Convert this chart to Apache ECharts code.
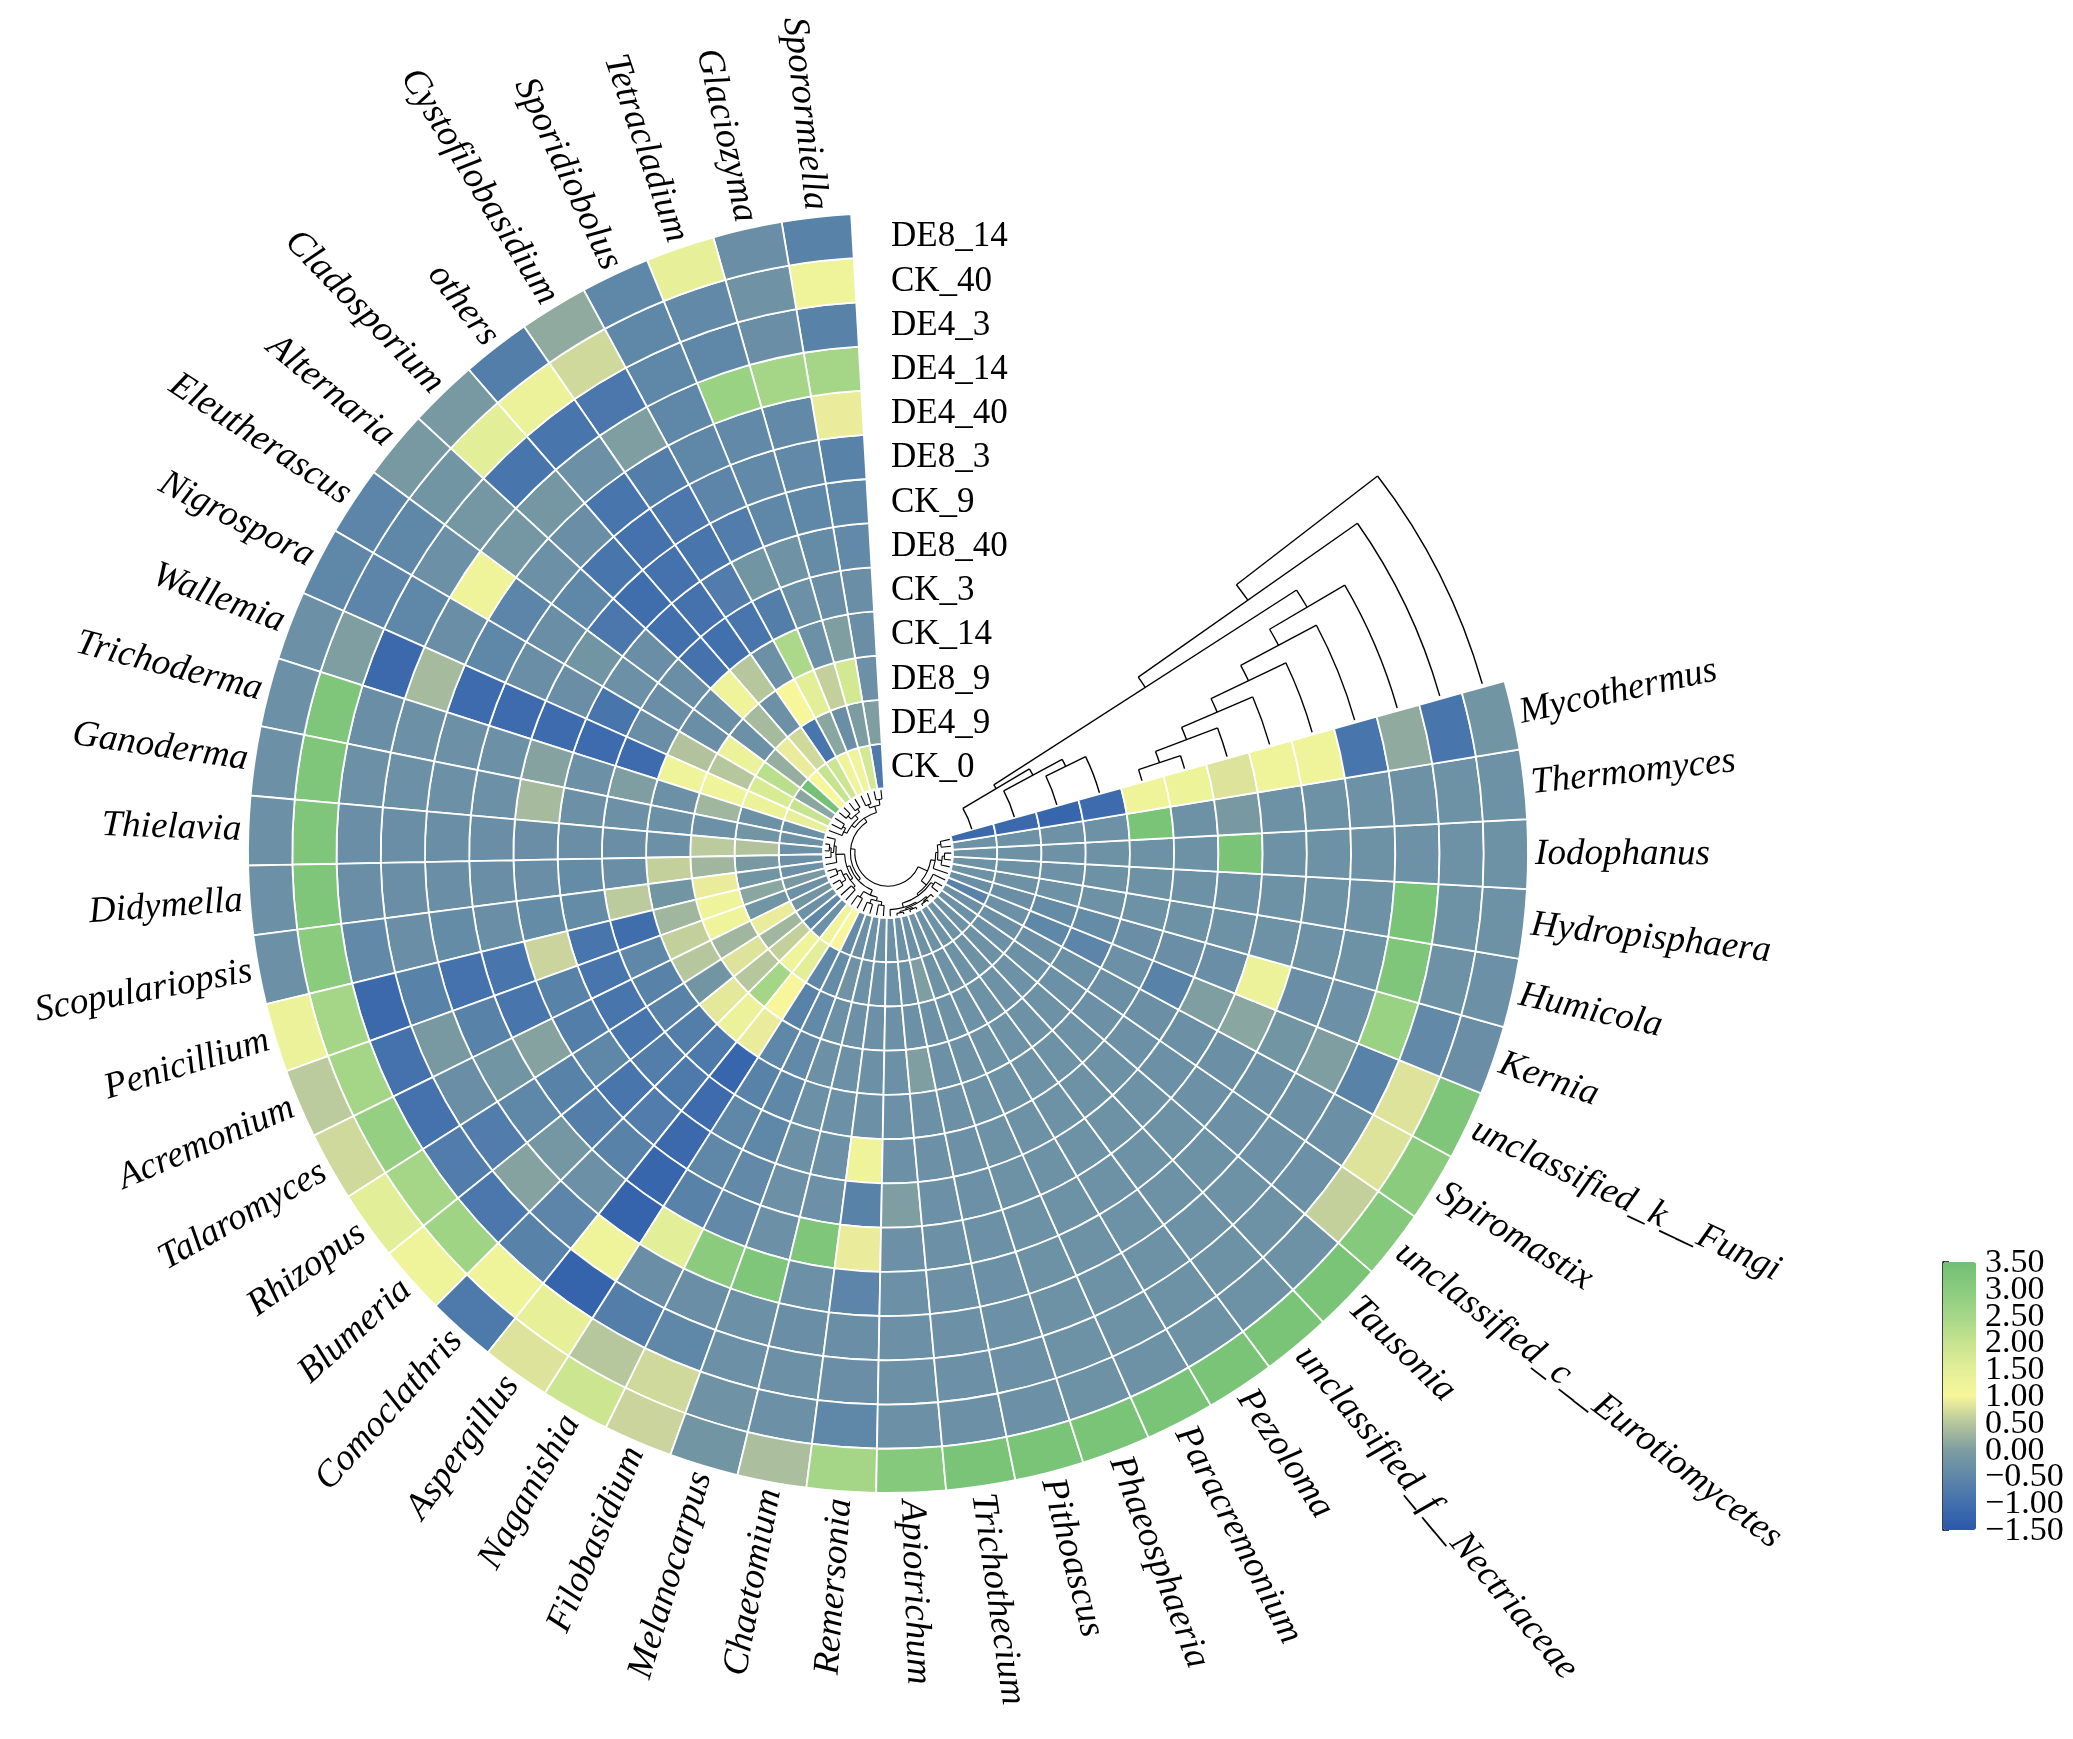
<!DOCTYPE html>
<html>
<head>
<meta charset="utf-8">
<title>Circular heatmap</title>
<script src="https://cdn.jsdelivr.net/npm/echarts@6/dist/echarts.min.js"></script>
<style>
  html, body { margin: 0; padding: 0; background: #fff; }
  #chart { width: 2073px; height: 1739px; }
</style>
</head>
<body>
<div id="chart"></div>
<script>
// ---------------------------------------------------------------- data
// genera, counter-clockwise from the top of the ring
var genera = ['Sporormiella', 'Glaciozyma', 'Tetracladium', 'Sporidiobolus', 'Cystofilobasidium',
  'others', 'Cladosporium', 'Alternaria', 'Eleutherascus', 'Nigrospora', 'Wallemia', 'Trichoderma',
  'Ganoderma', 'Thielavia', 'Didymella', 'Scopulariopsis', 'Penicillium', 'Acremonium', 'Talaromyces',
  'Rhizopus', 'Blumeria', 'Comoclathris', 'Aspergillus', 'Naganishia', 'Filobasidium', 'Melanocarpus',
  'Chaetomium', 'Remersonia', 'Apiotrichum', 'Trichothecium', 'Pithoascus', 'Phaeosphaeria',
  'Paracremonium', 'Pezoloma', 'unclassified_f__Nectriaceae', 'Tausonia', 'unclassified_c__Eurotiomycetes',
  'Spiromastix', 'unclassified_k__Fungi', 'Kernia', 'Humicola', 'Hydropisphaera', 'Iodophanus',
  'Thermomyces', 'Mycothermus'];

// samples, inner ring first
var samples = ['CK_0', 'DE4_9', 'DE8_9', 'CK_14', 'CK_3', 'DE8_40', 'CK_9', 'DE8_3', 'DE4_40',
  'DE4_14', 'DE4_3', 'CK_40', 'DE8_14'];

// z-scores per ring, one value per genus (same order as genera)
var valCK_0 = [-0.8, 1.8, 1.2, 1.2, 1.9, 2.0, 1.0, 3.4, 0.1, 2.0,
  1.4, -0.3, -0.3, -0.3, -0.3, -0.3, -0.1, -0.3, -0.2, -0.3,
  -0.5, -0.3, 1.2, 1.0, -0.4, -0.3, -0.3, -0.3, -0.3, -0.3,
  -0.3, -0.28, -0.28, -0.28, -0.28, -0.28, -0.3, -0.32, -0.6, -0.35,
  -0.28, -0.28, -0.28, -0.28, -1.15];
var valDE4_9 = [0.0, -0.05, -0.35, 0.1, -0.9, 0.7, 0.9, 0.2, 2.2, 1.7,
  1.3, -0.3, -0.2, 0.45, -0.1, -0.2, 0.1, -0.2, 0.9, 0.3,
  0.6, 1.2, 1.5, -0.5, -0.4, -0.25, -0.3, -0.3, -0.3, -0.3,
  0.0, -0.28, -0.28, -0.28, -0.28, -0.28, -0.3, -0.32, -0.3, -0.35,
  -0.28, -0.28, -0.28, -0.28, -1.15];
var valDE8_9 = [-0.3, 1.8, 0.6, 1.5, 1.0, -0.3, 0.35, -0.3, 1.3, 0.5,
  1.2, 0.3, -0.3, 0.55, 0.3, 0.9, 1.2, 1.2, 0.3, 0.8,
  0.5, 2.5, 1.0, -0.6, -0.45, -0.3, -0.3, -0.3, -0.3, -0.3,
  -0.3, -0.28, -0.28, -0.28, -0.28, -0.28, -0.3, -0.32, -0.5, -0.4,
  -0.28, -0.28, -0.28, -0.28, -1.2];
var valCK_14 = [-0.35, 0.0, -0.3, 2.4, -0.3, 0.5, 1.2, -0.35, -0.35, 0.45,
  1.2, -0.3, -0.3, -0.3, 0.6, -0.2, 0.3, 0.6, 0.5, -0.2,
  0.85, 1.3, 0.9, -0.5, -0.45, -0.3, -0.3, -0.3, -0.3, 0.0,
  -0.3, -0.28, -0.28, -0.28, -0.28, -0.28, -0.3, -0.32, -0.55, -0.4,
  -0.28, -0.28, -0.28, -0.28, -1.1];
var valCK_3 = [-0.35, -0.35, -0.3, -0.7, -0.9, -1.0, -0.95, -0.35, -0.35, -0.35,
  -1.1, 0.0, -0.3, -0.35, -0.35, 0.55, -1.05, -0.5, -0.6, -0.6,
  -0.7, -0.8, -1.2, -0.6, -0.5, -0.3, -0.3, -0.3, -0.3, -0.3,
  -0.3, -0.28, -0.28, -0.28, -0.28, -0.28, -0.3, -0.32, -0.3, -0.35,
  -0.28, -0.28, -0.28, 3.3, 1.2];
var valDE8_40 = [-0.45, -0.4, -0.25, -0.2, -0.75, -0.95, -1.0, -0.35, -0.3, -0.9,
  -1.1, -0.3, -0.3, -0.35, -0.4, -0.4, -0.9, -0.9, -0.9, -0.9,
  -0.7, -0.8, -1.1, -0.5, -0.5, -0.3, -0.3, 1.2, -0.3, -0.3,
  -0.3, -0.28, -0.28, -0.28, -0.28, -0.28, -0.3, -0.32, -0.6, -0.35,
  -0.28, -0.28, -0.28, -0.28, 1.25];
var valCK_9 = [-0.5, -0.5, -0.5, -0.75, -0.9, -0.95, -1.05, -0.85, -0.2, -0.35,
  -1.1, 0.05, 0.35, -0.35, -0.35, -0.4, 0.65, -0.6, -0.7, -0.5,
  -0.9, -0.75, -1.15, -0.5, -0.45, -0.3, -0.3, -0.6, 0.0, -0.3,
  -0.3, -0.28, -0.28, -0.28, -0.28, -0.28, -0.3, -0.32, 0.0, -0.35,
  -0.28, -0.28, 3.3, -0.1, 0.8];
var valDE8_3 = [-0.6, -0.45, -0.45, -0.55, -0.85, -0.95, -0.9, -0.5, -0.35, -0.35,
  -1.1, -0.3, -0.3, -0.35, -0.35, -0.35, -0.9, -0.9, 0.05, -0.6,
  -0.7, -0.6, -1.2, -0.6, -0.45, -0.3, 3.2, 0.9, -0.3, -0.3,
  -0.3, -0.28, -0.28, -0.28, -0.28, -0.28, -0.3, -0.32, 0.1, 1.3,
  -0.28, -0.28, -0.28, -0.28, 1.2];
var valDE4_40 = [0.9, -0.45, -0.45, -0.5, -0.7, -0.9, -0.35, -0.3, -0.55, -0.5,
  -1.1, -0.3, -0.3, -0.35, -0.35, -0.4, -0.95, -0.6, -0.2, -0.5,
  -0.15, -0.3, -1.25, 1.5, 3.0, 3.2, -0.3, -0.55, -0.3, -0.3,
  -0.3, -0.28, -0.28, -0.28, -0.28, -0.28, -0.3, -0.32, -0.2, -0.35,
  -0.28, -0.28, -0.28, -0.28, 1.2];
var valDE4_14 = [2.5, 2.5, 2.7, -0.5, 0.0, -0.3, -0.15, -0.15, 1.2, -0.35,
  0.35, -0.3, -0.3, -0.35, -0.35, -0.35, -0.6, -0.1, -0.35, -0.75,
  0.05, -0.55, 1.2, -0.35, -0.35, -0.3, -0.35, -0.35, -0.3, -0.3,
  -0.3, -0.28, -0.28, -0.28, -0.28, -0.28, -0.3, -0.32, 0.0, -0.3,
  -0.28, -0.28, -0.28, -0.28, -0.9];
var valDE4_3 = [-0.6, -0.35, -0.5, -0.5, -0.85, -0.9, -0.9, -0.15, -0.3, -0.5,
  -1.15, -0.35, -0.3, -0.35, -0.35, -0.45, -1.15, -0.95, -0.95, -0.75,
  -0.85, -0.6, -1.25, -0.7, -0.5, -0.3, -0.3, -0.35, -0.3, -0.3,
  -0.3, -0.28, -0.28, -0.28, -0.28, -0.28, -0.3, -0.32, -0.6, 2.7,
  3.2, 3.3, -0.28, -0.28, 0.15];
var valCK_40 = [1.2, -0.25, -0.45, -0.5, 0.7, 1.3, 1.5, -0.2, -0.5, -0.55,
  0.0, 3.2, 3.2, 3.2, 3.2, 3.0, 2.5, 2.5, 2.8, 2.5,
  2.6, 1.2, 1.4, 0.5, 0.7, -0.25, -0.3, -0.5, -0.3, -0.3,
  -0.3, -0.28, -0.28, -0.28, -0.28, -0.28, 0.6, 0.8, 0.8, -0.45,
  -0.28, -0.28, -0.28, -0.28, -0.9];
var valDE8_14 = [-0.6, -0.35, 1.4, -0.5, 0.15, -0.7, -0.1, -0.1, -0.55, -0.5,
  -0.3, -0.3, -0.3, -0.3, -0.3, -0.3, 1.3, 0.55, 0.7, 1.5,
  1.2, -0.8, 0.8, 1.9, 0.65, -0.2, 0.4, 2.5, 3.1, 3.3,
  3.3, 3.3, 3.3, 3.3, 3.3, 3.3, 3.1, 3.0, 3.2, -0.35,
  -0.3, -0.28, -0.28, -0.28, -0.2];

// sample clustering: [child, child, height]; leaves are ring indexes, merges numbered from 13
var sampleTree = [
  [5, 4, 0.45], [6, 13, 0.83], [7, 14, 1.21], [8, 15, 1.59], [9, 16, 1.98], [10, 17, 2.36],
  [2, 3, 1.66], [1, 19, 2.02], [0, 20, 2.42], [18, 21, 2.74], [11, 22, 3.11], [12, 23, 3.51]
];

// genus clustering: [child, child, height]; leaves are genus indexes, merges numbered from 45
var genusTree = [
  [29, 30, 0.05], [31, 32, 0.05], [45, 46, 0.08], [33, 34, 0.05], [35, 48, 0.08], [47, 49, 0.12],
  [28, 50, 0.15], [36, 37, 0.18], [51, 52, 0.25], [38, 53, 0.30], [41, 42, 0.15], [40, 55, 0.20],
  [43, 44, 0.22], [56, 57, 0.30], [39, 58, 0.35], [12, 13, 0.10], [14, 60, 0.14], [11, 61, 0.20],
  [15, 62, 0.25], [16, 17, 0.20], [18, 19, 0.18], [64, 65, 0.30], [20, 21, 0.32], [66, 67, 0.38],
  [22, 23, 0.25], [24, 25, 0.22], [26, 27, 0.24], [70, 71, 0.32], [69, 72, 0.40], [0, 1, 0.20],
  [2, 3, 0.25], [74, 75, 0.33], [4, 5, 0.22], [6, 7, 0.20], [77, 78, 0.30], [8, 9, 0.25],
  [10, 80, 0.32], [79, 81, 0.40], [76, 82, 0.48], [63, 68, 0.45], [84, 73, 0.52], [54, 59, 0.45],
  [83, 85, 0.58], [87, 86, 0.68]
];

// colour bar range and its tick labels
var scaleMin = -1.5;
var scaleMax = 3.5;
var scaleStep = 0.5;
var colorTicks = [-1.5, -1.0, -0.5, 0.0, 0.5, 1.0, 1.5, 2.0, 2.5, 3.0, 3.5];

// ---------------------------------------------------------------- layout
var TURN = 57.39;     // angle-axis units in a full turn, one unit per genus
var HOLE = 1.47;      // empty centre, in ring widths
var LEAF_R = -0.04;   // where the genus tree leaves start
var EDGE = genera.length;
var LEAF_GAP = 0.05;

var rings = [valCK_0, valDE4_9, valDE8_9, valCK_14, valCK_3, valDE8_40, valCK_9, valDE8_3,
  valDE4_40, valDE4_14, valDE4_3, valCK_40, valDE8_14];

var cells = [];
rings.forEach(function (row, j) {
  row.forEach(function (v, i) { cells.push([j, i, v]); });
});

function buildTree(linkage, nLeaves) {
  var nodes = [];
  for (var i = 0; i < nLeaves; i++) nodes.push({ pos: i + 0.5, h: 0 });
  linkage.forEach(function (m) {
    nodes.push({ pos: (nodes[m[0]].pos + nodes[m[1]].pos) / 2, h: m[2], kids: [m[0], m[1]] });
  });
  return nodes;
}
var sNodes = buildTree(sampleTree, samples.length);
var gNodes = buildTree(genusTree, genera.length);

// pixel point -> [radius, math angle]
function polarOf(params, p) {
  var cs = params.coordSys;
  return [Math.hypot(p[0] - cs.cx, p[1] - cs.cy), Math.atan2(cs.cy - p[1], p[0] - cs.cx)];
}
function unwrap(a0, a1) {
  while (a1 <= a0) a1 += Math.PI * 2;
  return a1;
}

var treeLine = { stroke: '#000', lineWidth: 1.4, fill: 'none' };

function arcAt(params, api, rVal, aFrom, aTo, style) {
  var cs = params.coordSys;
  var p0 = polarOf(params, api.coord([rVal, aFrom]));
  var p1 = polarOf(params, api.coord([rVal, aTo]));
  var a1 = unwrap(p0[1], p1[1]);
  return {
    type: 'arc',
    shape: { cx: cs.cx, cy: cs.cy, r: p0[0], startAngle: -a1, endAngle: -p0[1], clockwise: true },
    style: style
  };
}
function segment(pa, pb, style) {
  return { type: 'line', shape: { x1: pa[0], y1: pa[1], x2: pb[0], y2: pb[1] }, style: style };
}

function renderCell(params, api) {
  var cs = params.coordSys;
  var j = api.value(0), i = api.value(1);
  var p0 = polarOf(params, api.coord([j, i]));
  var p1 = polarOf(params, api.coord([j + 1, i + 1]));
  var a1 = unwrap(p0[1], p1[1]);
  return {
    type: 'sector',
    shape: { cx: cs.cx, cy: cs.cy, r0: p0[0], r: p1[0], startAngle: -a1, endAngle: -p0[1], clockwise: true },
    style: { fill: api.visual('color'), stroke: '#fff', lineWidth: 1.8 }
  };
}

// sample tree sits in the gap: heights run along the angle, leaves on the ring radii
function renderSampleMerge(params, api) {
  var node = sNodes[samples.length + params.dataIndex];
  var at = EDGE + node.h;
  var parts = node.kids.map(function (c) {
    var ch = sNodes[c];
    return arcAt(params, api, ch.pos, EDGE + (ch.kids ? ch.h : LEAF_GAP), at, treeLine);
  });
  parts.push(segment(api.coord([sNodes[node.kids[0]].pos, at]),
    api.coord([sNodes[node.kids[1]].pos, at]), treeLine));
  return { type: 'group', children: parts };
}

// genus tree sits in the hole: heights run inwards, leaves on the genus angles
var genusLine = { stroke: '#000', lineWidth: 1.1, fill: 'none' };
function renderGenusMerge(params, api) {
  var node = gNodes[genera.length + params.dataIndex];
  var rm = LEAF_R - node.h;
  var parts = node.kids.map(function (c) {
    var ch = gNodes[c];
    return segment(api.coord([LEAF_R - ch.h, ch.pos]), api.coord([rm, ch.pos]), genusLine);
  });
  var a = gNodes[node.kids[0]].pos, b = gNodes[node.kids[1]].pos;
  parts.push(arcAt(params, api, rm, Math.min(a, b), Math.max(a, b), genusLine));
  return { type: 'group', children: parts };
}

function renderGenusLabel(params, api) {
  var p = api.coord([api.value(0), api.value(1)]);
  var deg = polarOf(params, p)[1] * 180 / Math.PI;
  var leftSide = deg > 90 || deg < -90;
  var rot = leftSide ? (deg > 0 ? deg - 180 : deg + 180) : deg;
  return {
    type: 'text', x: p[0], y: p[1], rotation: rot * Math.PI / 180,
    style: {
      text: genera[params.dataIndex], fill: '#000', fontFamily: 'Liberation Serif',
      fontStyle: 'italic', fontSize: 37, align: leftSide ? 'right' : 'left', verticalAlign: 'middle'
    }
  };
}

function renderSampleLabel(params, api) {
  var p = api.coord([api.value(0), api.value(1)]);
  return {
    type: 'text', x: p[0] + 3, y: p[1] + 2,
    style: {
      text: samples[params.dataIndex], fill: '#000', fontFamily: 'Liberation Serif',
      fontSize: 35, align: 'left', verticalAlign: 'middle'
    }
  };
}

// colour bar tick labels, placed on the colour bar's own value axis
function renderTickLabel(params, api) {
  var v = api.value(1);
  var p = api.coord([1, v]);
  return {
    type: 'text', x: p[0] + 9, y: p[1] + 1,
    style: {
      text: (v < 0 ? '\u2212' : '') + Math.abs(v).toFixed(2), fill: '#000',
      fontFamily: 'Liberation Serif', fontSize: 34, align: 'left', verticalAlign: 'middle'
    }
  };
}

// ---------------------------------------------------------------- chart
var chart = echarts.init(document.getElementById('chart'), null, { renderer: 'canvas' });

chart.setOption({
  backgroundColor: '#fff',
  animation: false,
  polar: { center: [888, 853], radius: [0, 640] },
  angleAxis: { type: 'value', min: 0, max: TURN, startAngle: 93.3, clockwise: false, show: false },
  radiusAxis: { type: 'value', min: -HOLE, max: rings.length, show: false },
  grid: { left: 1943, top: 1262, width: 33, height: 268, containLabel: false, outerBoundsMode: 'none' },
  xAxis: { type: 'value', min: 0, max: 1, show: false, gridIndex: 0 },
  yAxis: {
    type: 'value', gridIndex: 0, position: 'right', min: scaleMin, max: scaleMax, interval: scaleStep,
    axisLine: { show: true, lineStyle: { color: '#000', width: 1.5 } },
    axisTick: { show: true, length: 6, lineStyle: { color: '#000', width: 1.5 } },
    splitLine: { show: false },
    axisLabel: { show: false }
  },
  visualMap: {
    type: 'continuous', seriesIndex: 0, dimension: 2, min: scaleMin, max: scaleMax,
    left: 1943, top: 1262, itemWidth: 33, itemHeight: 268, padding: 0,
    calculable: false, hoverLink: false, show: true,
    inRange: {
      color: ['#2a58ab', '#4270ad', '#5f87a8', '#7f9ea1', '#b6c69d', '#f7f69a',
        '#e3ef98', '#c6e38f', '#a5d687', '#8acb7e', '#70bf74']
    }
  },
  series: [
    { type: 'custom', coordinateSystem: 'polar', silent: true, renderItem: renderCell, data: cells },
    {
      type: 'custom', coordinateSystem: 'polar', silent: true, renderItem: renderSampleMerge,
      data: sampleTree.map(function (m, k) { return [k, m[2]]; })
    },
    {
      type: 'custom', coordinateSystem: 'polar', silent: true, renderItem: renderGenusMerge,
      data: genusTree.map(function (m, k) { return [k, m[2]]; })
    },
    {
      type: 'custom', coordinateSystem: 'polar', silent: true, renderItem: renderGenusLabel,
      data: genera.map(function (g, i) { return [rings.length + 0.16, i + 0.5]; })
    },
    {
      type: 'custom', coordinateSystem: 'polar', silent: true, renderItem: renderSampleLabel,
      data: samples.map(function (s, j) { return [j + 0.5, TURN - 3.3 * TURN / 360]; })
    },
    {
      type: 'custom', coordinateSystem: 'cartesian2d', xAxisIndex: 0, yAxisIndex: 0, silent: true,
      renderItem: renderTickLabel,
      data: colorTicks.map(function (v) { return [1, v]; })
    }
  ]
});
</script>
</body>
</html>
